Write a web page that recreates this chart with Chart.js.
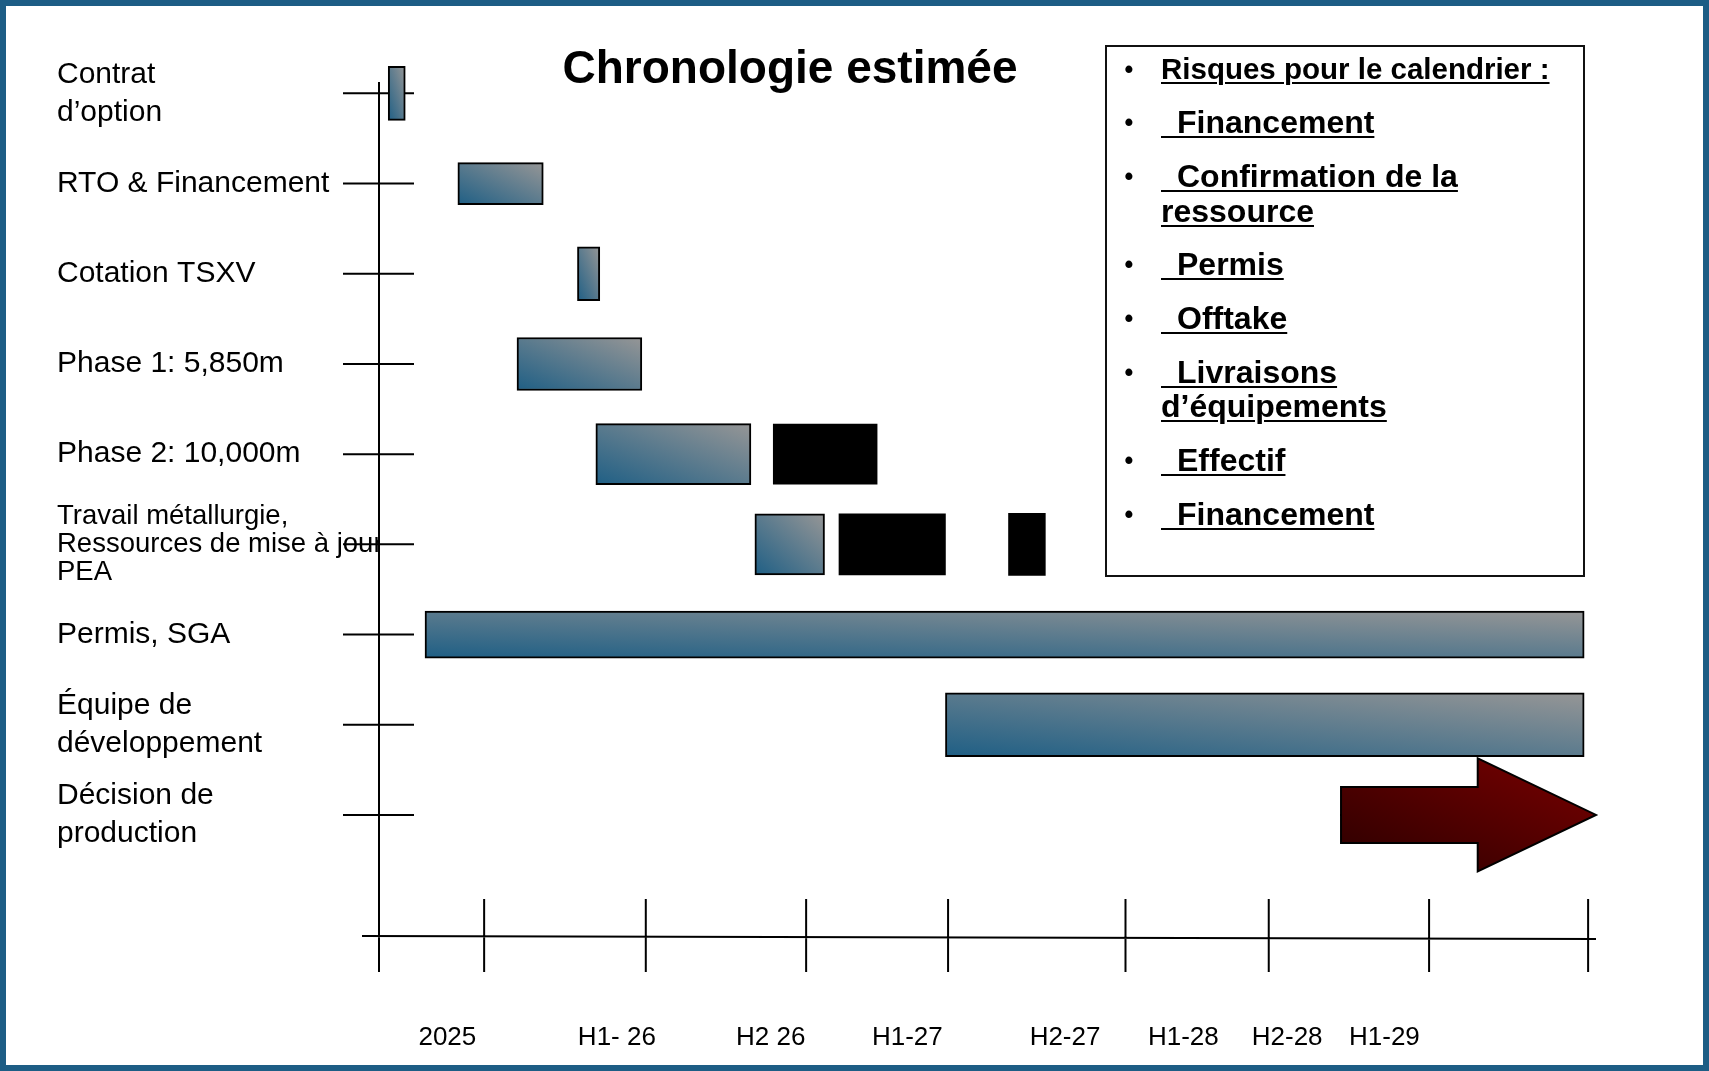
<!DOCTYPE html>
<html lang="fr">
<head>
<meta charset="utf-8">
<title>Chronologie estimée</title>
<script src="https://cdn.jsdelivr.net/npm/chart.js@4.4.1/dist/chart.umd.min.js"></script>
<style>
  html, body { margin: 0; padding: 0; background: #fff; }
  #page { position: relative; width: 1709px; height: 1071px; overflow: hidden; }
  #wrap { position: absolute; left: 0; top: 0; width: 1709px; height: 1071px; }
  #title {
    position: absolute; left: 540px; top: 44px; width: 500px;
    text-align: center; white-space: nowrap; color: #000;
    font: bold 46px/46px "Liberation Sans", Arial, sans-serif;
  }
  #risks {
    position: absolute; left: 1105px; top: 45px; width: 480px; height: 532px;
    box-sizing: border-box; border: 2px solid #111; padding: 5px 0 0 54px;
    font-family: "Liberation Sans", Arial, sans-serif; font-weight: bold; color: #000;
  }
  .item { position: relative; font-size: 32px; line-height: 34.5px; margin-top: 19.3px; white-space: nowrap; }
  .item.head { font-size: 29.5px; line-height: 34px; margin-top: 0; }
  .dot { position: absolute; left: -39px; width: 14px; text-align: center; font-size: 25px; }
  u { text-decoration-thickness: 2px; text-underline-offset: 3px; }
  #frame {
    position: absolute; left: 0; top: 0; width: 1709px; height: 1071px;
    box-sizing: border-box; border: 6px solid #1d5d85; pointer-events: none;
  }
</style>
</head>
<body>
<div id="page">
  <div id="wrap"><canvas id="timeline"></canvas></div>
  <div id="title">Chronologie estimée</div>
  <div id="risks">
    <div class="item head"><span class="dot">•</span><u>Risques pour le calendrier :</u></div>
    <div class="item"><span class="dot">•</span><u>&ensp;Financement</u></div>
    <div class="item"><span class="dot">•</span><u>&ensp;Confirmation de la</u><br><u>ressource</u></div>
    <div class="item"><span class="dot">•</span><u>&ensp;Permis</u></div>
    <div class="item"><span class="dot">•</span><u>&ensp;Offtake</u></div>
    <div class="item"><span class="dot">•</span><u>&ensp;Livraisons</u><br><u>d’équipements</u></div>
    <div class="item"><span class="dot">•</span><u>&ensp;Effectif</u></div>
    <div class="item"><span class="dot">•</span><u>&ensp;Financement</u></div>
  </div>
  <div id="frame"></div>
</div>
<script>
// rows of the timeline, top to bottom
const rowLabels = [
    ['Contrat', 'd’option'],
    'RTO & Financement',
    'Cotation TSXV',
    'Phase 1: 5,850m',
    'Phase 2: 10,000m',
    ['Travail métallurgie,', 'Ressources de mise à jour,', 'PEA'],
    'Permis, SGA',
    ['Équipe de', 'développement'],
    ['Décision de', 'production']
];

// time runs in months from the left end of the axis
const xLabels = ['2025', 'H1- 26', 'H2 26', 'H1-27', 'H2-27', 'H1-28', 'H2-28', 'H1-29'];
const xLabelMonths = [2.6, 9.05, 14.9, 20.1, 26.1, 30.6, 34.55, 38.25];
const xTickMonths = [4, 10.15, 16.25, 21.65, 28.4, 33.85, 39.95, 46];

// gradient bars
const taskRow = [0, 1, 2, 3, 4, 5, 6, 7];
const taskStart = [0.35, 3.0, 7.55, 5.25, 8.25, 14.3, 1.75, 21.55];
const taskEnd = [1.0, 6.25, 8.4, 10.0, 14.15, 16.95, 45.85, 45.85];

// black blocks
const blockRow = [4, 5, 5];
const blockStart = [15.0, 17.5, 23.95];
const blockEnd = [18.95, 21.55, 25.35];

// production decision arrow
const decisionRow = 8;
const decisionStart = 36.6;
const decisionBodyEnd = 41.8;
const decisionEnd = 46.3;

// bar heights in pixels (style)
const taskHeight = [54, 42, 54, 53, 61, 61, 47, 64];
const blockHeight = [60, 61, 62];

const blue = 'rgb(31, 95, 133)';
const grey = 'rgb(150, 150, 150)';

Chart.defaults.font.family = '"Liberation Sans", Arial, sans-serif';
Chart.defaults.color = '#000';

// corner to corner gradient, bottom-left -> top-right, scaled with the shape
function diagonalGradient(ctx, left, top, right, bottom, from, to) {
    const w = right - left, h = bottom - top;
    if (![left, top, right, bottom].every(Number.isFinite) || w <= 0 || h <= 0) return from;
    const cx = (left + right) / 2, cy = (top + bottom) / 2;
    const k = w * h / (w * w + h * h);
    const g = ctx.createLinearGradient(cx - k * h, cy + k * w, cx + k * h, cy - k * w);
    g.addColorStop(0, from);
    g.addColorStop(1, to);
    return g;
}

function barFill(c) {
    const chart = c.chart;
    const xs = chart.scales.x, ys = chart.scales.y;
    if (!xs || !ys || !c.raw) return blue;
    const h = c.dataset.barThickness;
    const cy = ys.getPixelForValue(c.raw.y);
    return diagonalGradient(chart.ctx,
        xs.getPixelForValue(c.raw.x[0]), cy - h / 2,
        xs.getPixelForValue(c.raw.x[1]), cy + h / 2, blue, grey);
}

const datasets = taskRow.map((row, i) => ({
    data: [{ y: row, x: [taskStart[i], taskEnd[i]] }],
    barThickness: taskHeight[i],
    backgroundColor: barFill,
    borderColor: '#000',
    borderWidth: 2,
    borderSkipped: false,
    grouped: false,
    clip: false
})).concat(blockRow.map((row, i) => ({
    data: [{ y: row, x: [blockStart[i], blockEnd[i]] }],
    barThickness: blockHeight[i],
    backgroundColor: '#000',
    borderWidth: 0,
    grouped: false,
    clip: false
})));

// axis lines, tick marks and the arrow
const axisFrame = {
    id: 'axisFrame',
    beforeDatasetsDraw(chart) {
        const { ctx, chartArea: area, scales: { x, y } } = chart;
        const x0 = x.getPixelForValue(0);
        ctx.save();
        ctx.strokeStyle = '#000';
        ctx.lineWidth = 2;
        ctx.beginPath();
        ctx.moveTo(x0, area.top);
        ctx.lineTo(x0, area.bottom + 36);
        ctx.moveTo(x0 - 17, area.bottom);
        ctx.lineTo(area.right, area.bottom + 3);
        rowLabels.forEach((_, i) => {
            const py = y.getPixelForValue(i);
            ctx.moveTo(x0 - 36, py);
            ctx.lineTo(x0 + 35, py);
        });
        xTickMonths.forEach(m => {
            const px = x.getPixelForValue(m);
            ctx.moveTo(px, area.bottom - 37);
            ctx.lineTo(px, area.bottom + 36);
        });
        ctx.stroke();
        ctx.restore();
    },
    afterDatasetsDraw(chart) {
        const { ctx, scales: { x, y } } = chart;
        const x1 = x.getPixelForValue(decisionStart);
        const x2 = x.getPixelForValue(decisionBodyEnd);
        const x3 = x.getPixelForValue(decisionEnd);
        const cy = y.getPixelForValue(decisionRow);
        const body = 28, head = 56.5;
        ctx.save();
        ctx.beginPath();
        ctx.moveTo(x1, cy - body);
        ctx.lineTo(x2, cy - body);
        ctx.lineTo(x2, cy - head);
        ctx.lineTo(x3, cy);
        ctx.lineTo(x2, cy + head);
        ctx.lineTo(x2, cy + body);
        ctx.lineTo(x1, cy + body);
        ctx.closePath();
        ctx.fillStyle = diagonalGradient(ctx, x1, cy - head, x3, cy + head, '#2a0000', '#7a0000');
        ctx.fill();
        ctx.lineWidth = 2;
        ctx.strokeStyle = '#000';
        ctx.stroke();
        ctx.restore();
    }
};

new Chart(document.getElementById('timeline'), {
    type: 'bar',
    data: { datasets: datasets },
    plugins: [axisFrame],
    options: {
        indexAxis: 'y',
        responsive: true,
        maintainAspectRatio: false,
        animation: false,
        events: [],
        layout: { padding: { left: 57, right: 113, top: 82, bottom: 15 } },
        plugins: {
            legend: { display: false },
            tooltip: { enabled: false }
        },
        scales: {
            x: {
                type: 'linear',
                position: 'bottom',
                min: 0,
                max: 46.3,
                offset: false,
                grid: { display: false, drawTicks: false },
                border: { display: false },
                afterBuildTicks: s => { s.ticks = xLabelMonths.map(v => ({ value: v })); },
                afterFit: s => { s.height = 120; },
                ticks: {
                    autoSkip: false,
                    maxRotation: 0,
                    padding: 86,
                    font: { size: 26 },
                    callback: (v, i) => xLabels[i]
                }
            },
            y: {
                type: 'linear',
                reverse: true,
                min: -0.126,
                max: 9.342,
                offset: false,
                grid: { display: false, drawTicks: false },
                border: { display: false },
                afterBuildTicks: s => { s.ticks = rowLabels.map((_, i) => ({ value: i })); },
                afterFit: s => { s.width = 322; },
                ticks: {
                    autoSkip: false,
                    crossAlign: 'far',
                    padding: 0,
                    font: c => c.index === 5 ? { size: 27.5, lineHeight: '28.3px' } : { size: 30, lineHeight: '38px' },
                    callback: v => rowLabels[v]
                }
            }
        }
    }
});
</script>
</body>
</html>
